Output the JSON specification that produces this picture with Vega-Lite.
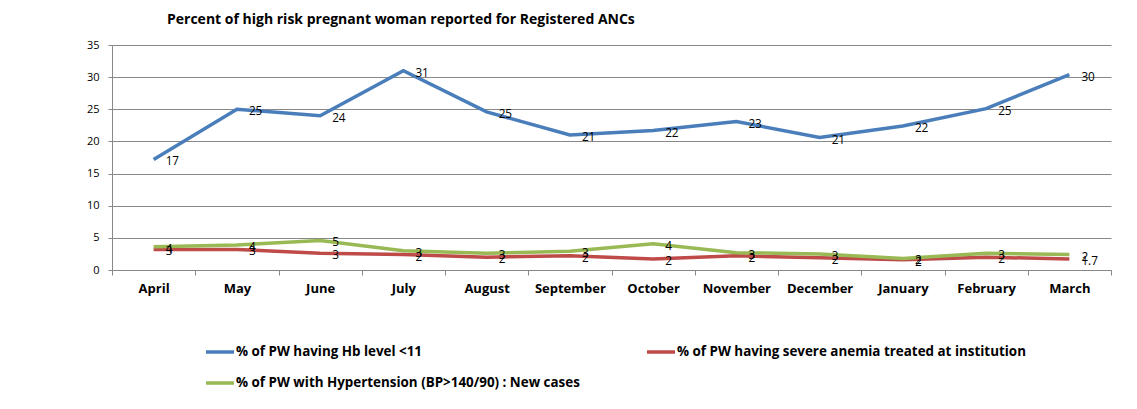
{
  "$schema": "https://vega.github.io/schema/vega-lite/v6.json",
  "width": 999,
  "height": 225,
  "autosize": {"type": "none"},
  "padding": {"left": 112, "top": 45, "right": 26, "bottom": 139},
  "background": "white",
  "config": {
    "font": "Open Sans",
    "view": {"stroke": null}
  },
  "title": {
    "text": "Percent of high risk pregnant woman reported for Registered ANCs",
    "anchor": "start",
    "frame": "group",
    "dx": 55,
    "offset": 12,
    "fontSize": 14,
    "fontWeight": "bold",
    "font": "Open Sans",
    "color": "black"
  },
  "data": {
    "values": [
      {"month": "April", "series": "% of PW having Hb level <11", "value": 17.2, "label": "17"},
      {"month": "May", "series": "% of PW having Hb level <11", "value": 25.0, "label": "25"},
      {"month": "June", "series": "% of PW having Hb level <11", "value": 24.0, "label": "24"},
      {"month": "July", "series": "% of PW having Hb level <11", "value": 31.0, "label": "31"},
      {"month": "August", "series": "% of PW having Hb level <11", "value": 24.6, "label": "25"},
      {"month": "September", "series": "% of PW having Hb level <11", "value": 21.0, "label": "21"},
      {"month": "October", "series": "% of PW having Hb level <11", "value": 21.7, "label": "22"},
      {"month": "November", "series": "% of PW having Hb level <11", "value": 23.1, "label": "23"},
      {"month": "December", "series": "% of PW having Hb level <11", "value": 20.6, "label": "21"},
      {"month": "January", "series": "% of PW having Hb level <11", "value": 22.4, "label": "22"},
      {"month": "February", "series": "% of PW having Hb level <11", "value": 25.1, "label": "25"},
      {"month": "March", "series": "% of PW having Hb level <11", "value": 30.4, "label": "30"},
      {"month": "April", "series": "% of PW having severe anemia treated at institution", "value": 3.2, "label": "3"},
      {"month": "May", "series": "% of PW having severe anemia treated at institution", "value": 3.2, "label": "3"},
      {"month": "June", "series": "% of PW having severe anemia treated at institution", "value": 2.6, "label": "3"},
      {"month": "July", "series": "% of PW having severe anemia treated at institution", "value": 2.4, "label": "2"},
      {"month": "August", "series": "% of PW having severe anemia treated at institution", "value": 2.0, "label": "2"},
      {"month": "September", "series": "% of PW having severe anemia treated at institution", "value": 2.2, "label": "2"},
      {"month": "October", "series": "% of PW having severe anemia treated at institution", "value": 1.7, "label": "2"},
      {"month": "November", "series": "% of PW having severe anemia treated at institution", "value": 2.2, "label": "2"},
      {"month": "December", "series": "% of PW having severe anemia treated at institution", "value": 1.9, "label": "2"},
      {"month": "January", "series": "% of PW having severe anemia treated at institution", "value": 1.6, "label": "2"},
      {"month": "February", "series": "% of PW having severe anemia treated at institution", "value": 2.0, "label": "2"},
      {"month": "March", "series": "% of PW having severe anemia treated at institution", "value": 1.7, "label": "1.7"},
      {"month": "April", "series": "% of PW with Hypertension (BP>140/90) : New cases", "value": 3.6, "label": "4"},
      {"month": "May", "series": "% of PW with Hypertension (BP>140/90) : New cases", "value": 3.9, "label": "4"},
      {"month": "June", "series": "% of PW with Hypertension (BP>140/90) : New cases", "value": 4.6, "label": "5"},
      {"month": "July", "series": "% of PW with Hypertension (BP>140/90) : New cases", "value": 3.0, "label": "3"},
      {"month": "August", "series": "% of PW with Hypertension (BP>140/90) : New cases", "value": 2.6, "label": "3"},
      {"month": "September", "series": "% of PW with Hypertension (BP>140/90) : New cases", "value": 2.9, "label": "3"},
      {"month": "October", "series": "% of PW with Hypertension (BP>140/90) : New cases", "value": 4.1, "label": "4"},
      {"month": "November", "series": "% of PW with Hypertension (BP>140/90) : New cases", "value": 2.7, "label": "3"},
      {"month": "December", "series": "% of PW with Hypertension (BP>140/90) : New cases", "value": 2.5, "label": "3"},
      {"month": "January", "series": "% of PW with Hypertension (BP>140/90) : New cases", "value": 1.8, "label": "2"},
      {"month": "February", "series": "% of PW with Hypertension (BP>140/90) : New cases", "value": 2.6, "label": "3"},
      {"month": "March", "series": "% of PW with Hypertension (BP>140/90) : New cases", "value": 2.4, "label": "2"}
    ]
  },
  "encoding": {
    "x": {
      "field": "month",
      "type": "nominal",
      "sort": ["April", "May", "June", "July", "August", "September", "October", "November", "December", "January", "February", "March"],
      "scale": {"type": "band", "paddingInner": 0, "paddingOuter": 0},
      "axis": {
        "title": null,
        "labelAngle": 0,
        "labelFontWeight": "bold",
        "labelFontSize": 13,
        "labelColor": "black",
        "labelPadding": 7,
        "tickBand": "extent",
        "tickSize": 5,
        "tickColor": "#888888",
        "domainColor": "#888888",
        "grid": false
      }
    },
    "y": {
      "field": "value",
      "type": "quantitative",
      "scale": {"domain": [0, 35], "nice": false},
      "axis": {
        "title": null,
        "values": [0, 5, 10, 15, 20, 25, 30, 35],
        "labelFontSize": 11,
        "labelColor": "black",
        "labelPadding": 9,
        "tickSize": 4,
        "tickColor": "#888888",
        "domainColor": "#888888",
        "grid": true,
        "gridColor": "#888888"
      }
    }
  },
  "layer": [
    {
      "mark": {"type": "line", "strokeWidth": 3.5},
      "encoding": {
        "color": {
          "field": "series",
          "type": "nominal",
          "scale": {
            "domain": ["% of PW having Hb level <11", "% of PW with Hypertension (BP>140/90) : New cases", "% of PW having severe anemia treated at institution"],
            "range": ["#4A7EBB", "#98B954", "#BE4B48"]
          },
          "legend": {
            "title": null,
            "orient": "none",
            "legendX": 92,
            "legendY": 291,
            "columns": 2,
            "columnPadding": 60,
            "rowPadding": 8,
            "padding": 0,
            "symbolType": "stroke",
            "symbolSize": 784,
            "symbolStrokeWidth": 3.5,
            "labelFontSize": 13.4,
            "labelFontWeight": "bold",
            "labelColor": "black",
            "labelOffset": 0,
            "labelLimit": 600
          }
        }
      }
    },
    {
      "mark": {"type": "text", "align": "left", "baseline": "middle", "dx": 12, "dy": 2, "fontSize": 11.8, "color": "black"},
      "encoding": {
        "text": {"field": "label", "type": "nominal"}
      }
    }
  ]
}
